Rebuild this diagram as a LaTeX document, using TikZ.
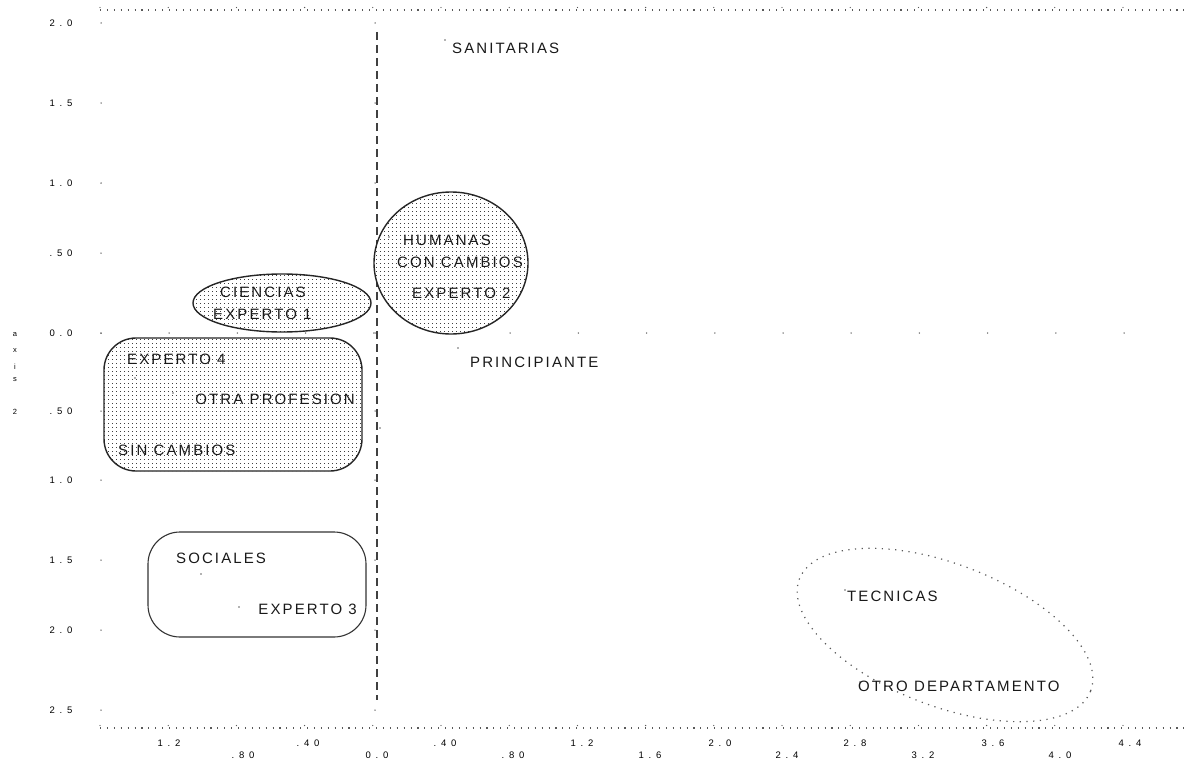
\documentclass[tikz,border=0pt]{standalone}
\usepackage{fontspec}
\setmainfont{Liberation Sans}
\newfontfamily\labf[LetterSpace=14]{Liberation Sans}
\newfontfamily\tickf[LetterSpace=50]{Liberation Sans}
\usetikzlibrary{patterns}
\pgfdeclarepatternformonly{stipple}{\pgfqpoint{0pt}{0pt}}{\pgfqpoint{4pt}{4pt}}{\pgfqpoint{4pt}{4pt}}{%
  \pgfpathrectangle{\pgfqpoint{0pt}{0pt}}{\pgfqpoint{1.1pt}{1.1pt}}%
  \pgfusepath{fill}}
\tikzset{
  lbl/.style={font={\labf\fontsize{15}{15}\selectfont}, inner sep=0pt, anchor=west, text=black!90},
  ticklbl/.style={font={\tickf\fontsize{9.5}{9.5}\selectfont}, inner sep=0pt, text=black},
  axtitle/.style={font={\fontsize{7.5}{7.5}\selectfont}, inner sep=0pt, text=black},
  shaded/.style={draw=black!85, line width=1.4pt, preaction={fill=white}, pattern=stipple, pattern color=black!75},
  plain/.style={draw=black!80, line width=1.1pt},
  dotline/.style={line width=1.1pt, dash pattern=on 1.1pt off 5.8pt, black!65},
  ptdot/.style={fill=black!60},
}
\begin{document}
\begin{tikzpicture}[x=1pt,y=-1pt]
\useasboundingbox (0,0) rectangle (1186,760);
\fill[white] (0,0) rectangle (1186,760);
% frame lines
\draw[dotline] (100,10) -- (1186,10);
\draw[dotline] (100,728) -- (1186,728);
\foreach \k in {0,...,16} {
  \fill[black!65] ({100+68.2*\k},7.5) circle (0.65pt);
  \fill[black!65] ({100+68.2*\k},725.5) circle (0.65pt);
}
% axis dots
\foreach \y in {23,103,183,253,333,411,480,560,630,710} {
  \fill[black!65] (101,\y) circle (0.75pt);
  \fill[black!65] (375,\y) circle (0.75pt);
}
\foreach \k in {0,...,15} {
  \fill[black!65] ({101+68.2*\k},333) circle (0.75pt);
}
% vertical dashed line
\draw[line width=1.6pt, dash pattern=on 8pt off 5pt, black!75] (377,32) -- (377,700);
% y tick labels
\node[ticklbl] (y1) at (61,23) {2.0};
\node[ticklbl] (y2) at (61,103) {1.5};
\node[ticklbl] (y3) at (61,183) {1.0};
\node[ticklbl] (y4) at (61,253) {.50};
\node[ticklbl] (y5) at (61,333) {0.0};
\node[ticklbl] (y6) at (61,411) {.50};
\node[ticklbl] (y7) at (61,480) {1.0};
\node[ticklbl] (y8) at (61,560) {1.5};
\node[ticklbl] (y9) at (61,630) {2.0};
\node[ticklbl] (y10) at (61,710) {2.5};
% axis title
\node[axtitle] (t1) at (15,335) {a};
\node[axtitle] (t2) at (15,351) {x};
\node[axtitle] (t3) at (15,367) {i};
\node[axtitle] (t4) at (15,380) {s};
\node[axtitle] (t5) at (15,412) {2};
% x tick labels row 1
\node[ticklbl, anchor=base] (x1) at (169,746.5) {1.2};
\node[ticklbl, anchor=base] (x2) at (308,746.5) {.40};
\node[ticklbl, anchor=base] (x3) at (445,746.5) {.40};
\node[ticklbl, anchor=base] (x4) at (582,746.5) {1.2};
\node[ticklbl, anchor=base] (x5) at (720,746.5) {2.0};
\node[ticklbl, anchor=base] (x6) at (855,746.5) {2.8};
\node[ticklbl, anchor=base] (x7) at (993,746.5) {3.6};
\node[ticklbl, anchor=base] (x8) at (1130,746.5) {4.4};
% x tick labels row 2
\node[ticklbl, anchor=base] (z1) at (243,758.6) {.80};
\node[ticklbl, anchor=base] (z2) at (377,758.6) {0.0};
\node[ticklbl, anchor=base] (z3) at (513,758.6) {.80};
\node[ticklbl, anchor=base] (z4) at (650,758.6) {1.6};
\node[ticklbl, anchor=base] (z5) at (787,758.6) {2.4};
\node[ticklbl, anchor=base] (z6) at (923,758.6) {3.2};
\node[ticklbl, anchor=base] (z7) at (1060,758.6) {4.0};
% shapes
\path[shaded] (451,263) ellipse [x radius=77pt, y radius=71pt];
\path[shaded] (282,303) ellipse [x radius=89pt, y radius=29pt];
\path[shaded, rounded corners=32pt] (104,338) rectangle (362,471);
\path[plain, rounded corners=32pt] (148,532) rectangle (366,637);
\begin{scope}[shift={(945,635)}, rotate=-21]
  \draw[line width=1.2pt, dash pattern=on 1.2pt off 5.5pt, black!65] (0,0) ellipse [x radius=156pt, y radius=71pt];
\end{scope}
% point markers
\foreach \p in {(445,40),(458,348),(201,574),(239,607),(845,590),(860,682),(389,237),(135,378),(173,393),(380,428)} {
  \fill[ptdot] \p circle (0.8pt);
}
% labels
\node[lbl] (san) at (452,48) {SANITARIAS};
\node[lbl] (hum) at (403,240) {HUMANAS};
\node[lbl] (con) at (397,262) {CON CAMBIOS};
\node[lbl] (ex2) at (412,293) {EXPERTO 2};
\node[lbl] (pri) at (470,362) {PRINCIPIANTE};
\node[lbl] (cie) at (220,292) {CIENCIAS};
\node[lbl] (ex1) at (213,314) {EXPERTO 1};
\node[lbl] (ex4) at (127,359) {EXPERTO 4};
\node[lbl, anchor=east] (otr) at (355,399) {OTRA PROFESION};
\node[lbl] (sin) at (118,450) {SIN CAMBIOS};
\node[lbl] (soc) at (176,558) {SOCIALES};
\node[lbl, anchor=east] (ex3) at (357,609) {EXPERTO 3};
\node[lbl] (tec) at (847,596) {TECNICAS};
\node[lbl] (otd) at (858,686) {OTRO DEPARTAMENTO};
\end{tikzpicture}
\end{document}
